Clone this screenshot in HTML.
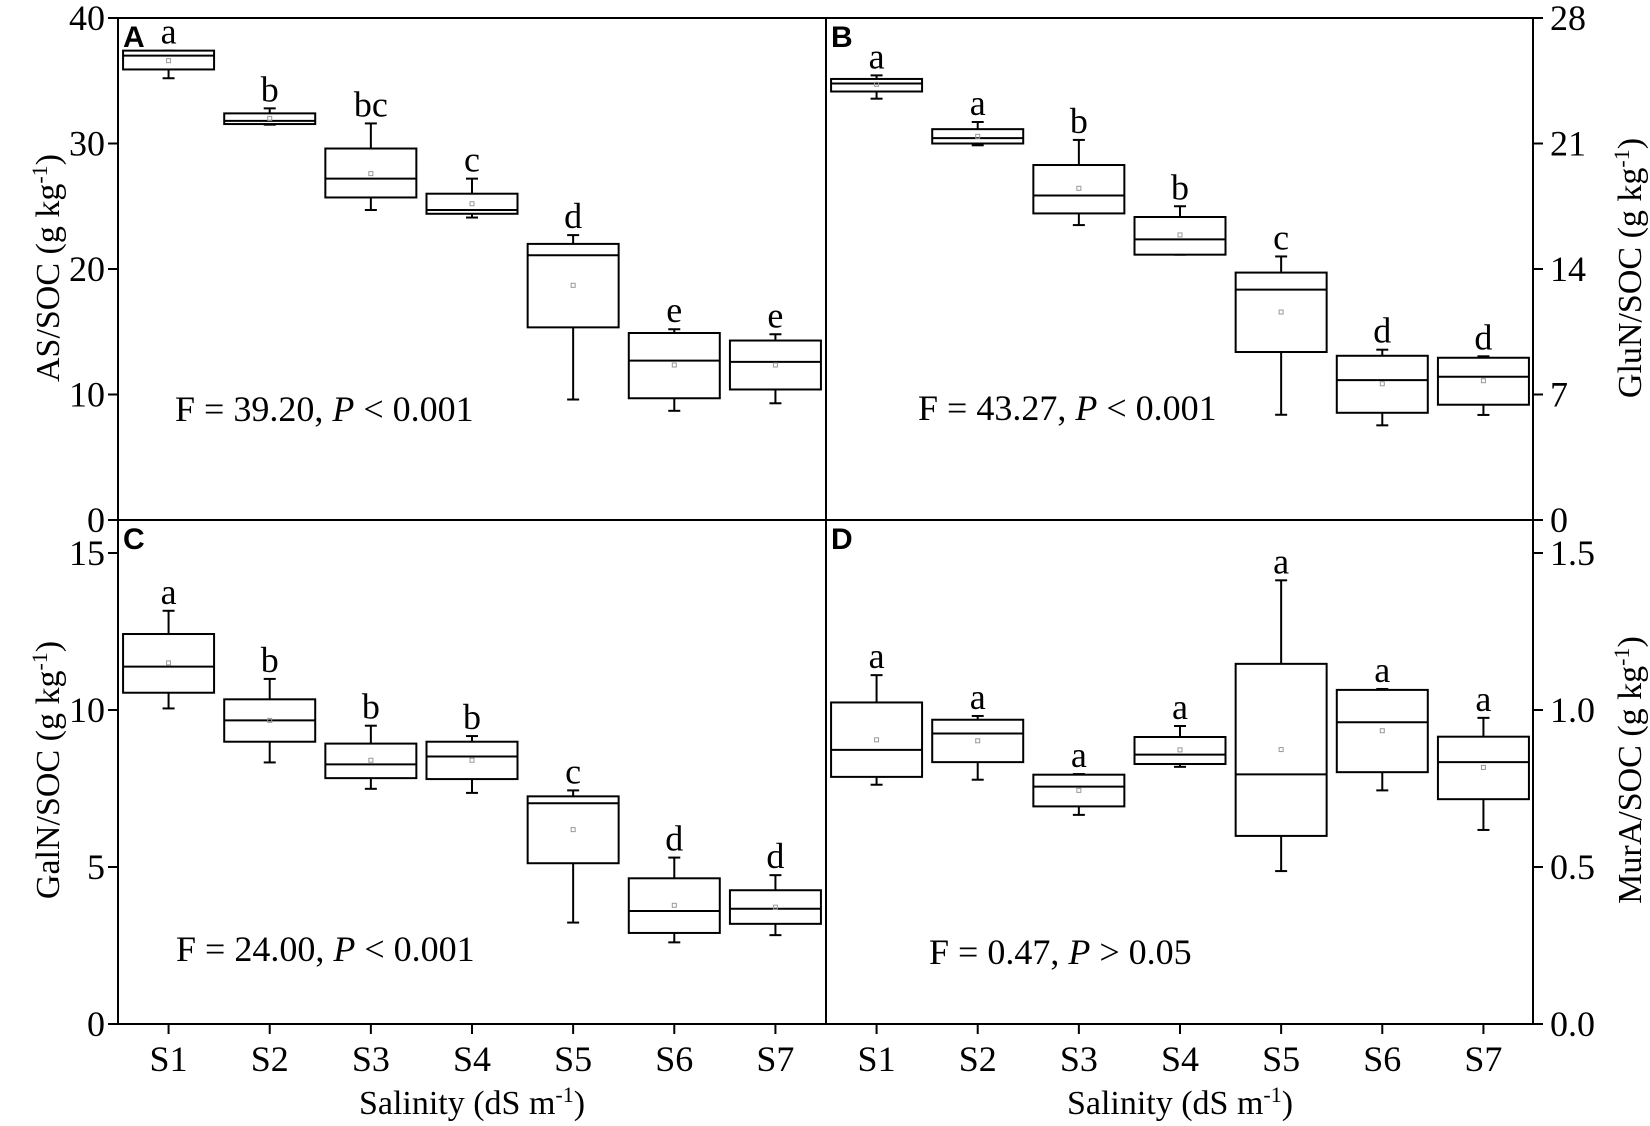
<!DOCTYPE html>
<html><head><meta charset="utf-8"><style>
html,body{margin:0;padding:0;background:#fff;}
svg{display:block;font-family:"Liberation Serif",serif;}
</style></head><body>
<svg id="chart" width="1650" height="1126" viewBox="0 0 1650 1126" xmlns="http://www.w3.org/2000/svg"></svg>
<script>
const categories = ["S1","S2","S3","S4","S5","S6","S7"];
// Panel A: AS/SOC
const aWhiskerLow = [35.2,31.5,24.7,24.1,9.6,8.7,9.3];
const aQ1 = [35.9,31.55,25.7,24.4,15.35,9.7,10.4];
const aMedian = [37.0,31.8,27.2,24.7,21.1,12.7,12.6];
const aQ3 = [37.4,32.4,29.6,26.0,22.0,14.9,14.3];
const aWhiskerHigh = [37.4,32.8,31.6,27.2,22.7,15.2,14.8];
const aMean = [36.6,32.0,27.6,25.2,18.7,12.35,12.35];
const aLetters = ["a","b","bc","c","d","e","e"];
const aTicks = [0,10,20,30,40];
// Panel B: GluN/SOC
const bWhiskerLow = [23.5,20.9,16.45,14.8,5.87,5.28,5.86];
const bQ1 = [23.9,21.0,17.1,14.8,9.37,5.98,6.43];
const bMedian = [24.35,21.3,18.1,15.65,12.85,7.8,7.99];
const bQ3 = [24.6,21.8,19.8,16.9,13.8,9.16,9.05];
const bWhiskerHigh = [24.8,22.2,21.2,17.5,14.7,9.5,9.13];
const bMean = [24.3,21.4,18.5,15.9,11.6,7.6,7.77];
const bLetters = ["a","a","b","b","c","d","d"];
const bTicks = [0,7,14,21,28];
// Panel C: GalN/SOC
const cWhiskerLow = [10.05,8.33,7.49,7.36,3.23,2.6,2.83];
const cQ1 = [10.55,8.99,7.83,7.8,5.12,2.9,3.19];
const cMedian = [11.38,9.67,8.27,8.52,7.03,3.6,3.67];
const cQ3 = [12.42,10.34,8.93,8.99,7.25,4.64,4.26];
const cWhiskerHigh = [13.16,10.99,9.5,9.17,7.44,5.3,4.74];
const cMean = [11.5,9.67,8.4,8.4,6.19,3.78,3.72];
const cLetters = ["a","b","b","b","c","d","d"];
const cTicks = [0,5,10,15];
// Panel D: MurA/SOC
const dWhiskerLow = [0.762,0.778,0.666,0.819,0.487,0.744,0.618];
const dQ1 = [0.787,0.834,0.693,0.828,0.599,0.802,0.716];
const dMedian = [0.873,0.925,0.756,0.858,0.795,0.961,0.834];
const dQ3 = [1.024,0.969,0.794,0.914,1.147,1.064,0.915];
const dWhiskerHigh = [1.111,0.981,0.796,0.949,1.413,1.067,0.975];
const dMean = [0.905,0.902,0.744,0.873,0.874,0.934,0.817];
const dLetters = ["a","a","a","a","a","a","a"];
const dTicks = ["0.0","0.5","1.0","1.5"];

const svg = document.getElementById('chart');
const NS = "http://www.w3.org/2000/svg";
function mk(tag, attrs, parent){
  const e = document.createElementNS(NS, tag);
  for (const k in attrs) e.setAttribute(k, attrs[k]);
  (parent||svg).appendChild(e);
  return e;
}
const XL = 118, XM = 826, XR = 1533, YT = 18, YM = 520, YB = 1024;
const step = (XM - XL) / 7;
const FS = 36;

function drawPanel(p){
  const g = mk('g', {});
  
  
  const y = v => p.y0 - (v - p.vmin) / (p.vmax - p.vmin) * (p.y0 - p.y1);
  const x = i => p.x0 + step * (i + 0.5);
  const bw = 91;
  for (let i = 0; i < categories.length; i++) {
    const bg = mk('g', {}, g);
    
    
    const cx = x(i);
    const st = {stroke:'#000','stroke-width':2,fill:'none'};
    mk('line', Object.assign({x1:cx,x2:cx,y1:y(p.wh[i]),y2:y(p.q3[i])}, st), bg);
    mk('line', Object.assign({x1:cx,x2:cx,y1:y(p.q1[i]),y2:y(p.wl[i])}, st), bg);
    mk('line', Object.assign({x1:cx-6,x2:cx+6,y1:y(p.wh[i]),y2:y(p.wh[i])}, st), bg);
    mk('line', Object.assign({x1:cx-6,x2:cx+6,y1:y(p.wl[i]),y2:y(p.wl[i])}, st), bg);
    mk('rect', Object.assign({x:cx-bw/2,y:y(p.q3[i]),width:bw,height:y(p.q1[i])-y(p.q3[i])}, st, {fill:'#fff'}), bg);
    mk('line', Object.assign({x1:cx-bw/2,x2:cx+bw/2,y1:y(p.med[i]),y2:y(p.med[i])}, st), bg);
    mk('rect', {x:cx-2,y:y(p.mean[i])-2,width:4,height:4,fill:'none',stroke:'#999','stroke-width':1}, bg);
    const t = mk('text', {x:cx, y:y(p.wh[i])-7, 'text-anchor':'middle', 'font-size':FS}, bg);
    t.textContent = p.letters[i];
    
    
  }
  p.ticks.forEach(tv => {
    const v = parseFloat(tv), yy = y(v);
    if (p.side === 'left') {
      mk('line', {x1:p.x0-10,x2:p.x0,y1:yy,y2:yy,stroke:'#000','stroke-width':2}, g);
      const t = mk('text', {x:p.x0-13, y:yy+12, 'text-anchor':'end','font-size':FS}, g);
      t.textContent = tv;
      
      
    } else {
      mk('line', {x1:p.x1,x2:p.x1+10,y1:yy,y2:yy,stroke:'#000','stroke-width':2}, g);
      const t = mk('text', {x:p.x1+17, y:yy+12, 'text-anchor':'start','font-size':FS}, g);
      t.textContent = tv;
      
      
    }
  });
  const pl = mk('text', {x:p.x0+5, y:p.y1+29, 'font-size':30,'font-weight':'bold','font-family':'"Liberation Sans",sans-serif'}, g);
  pl.textContent = p.id;
  
  
  const ft = mk('text', {x:p.fx, y:p.fy, 'font-size':FS}, g);
  
  
  const t1 = mk('tspan', {}, ft); t1.textContent = p.fstr + ', ';
  const t2 = mk('tspan', {'font-style':'italic'}, ft); t2.textContent = 'P';
  const t3 = mk('tspan', {}, ft); t3.textContent = p.pstr;
}

drawPanel({id:'A',x0:XL,x1:XM,y0:YM,y1:YT,vmin:0,vmax:40,side:'left',ticks:aTicks,
  wl:aWhiskerLow,q1:aQ1,med:aMedian,q3:aQ3,wh:aWhiskerHigh,mean:aMean,letters:aLetters,
  fx:175,fy:421,fstr:'F = 39.20',pstr:' < 0.001'});
drawPanel({id:'B',x0:XM,x1:XR,y0:YM,y1:YT,vmin:0,vmax:28,side:'right',ticks:bTicks,
  wl:bWhiskerLow,q1:bQ1,med:bMedian,q3:bQ3,wh:bWhiskerHigh,mean:bMean,letters:bLetters,
  fx:918,fy:420,fstr:'F = 43.27',pstr:' < 0.001'});
drawPanel({id:'C',x0:XL,x1:XM,y0:YB,y1:YB-(YB-553)*16.05/15,vmin:0,vmax:16.05,side:'left',ticks:cTicks,
  wl:cWhiskerLow,q1:cQ1,med:cMedian,q3:cQ3,wh:cWhiskerHigh,mean:cMean,letters:cLetters,
  fx:176,fy:961,fstr:'F = 24.00',pstr:' < 0.001'});
drawPanel({id:'D',x0:XM,x1:XR,y0:YB,y1:YB-(YB-553)*16.05/15,vmin:0,vmax:1.605,side:'right',ticks:dTicks,
  wl:dWhiskerLow,q1:dQ1,med:dMedian,q3:dQ3,wh:dWhiskerHigh,mean:dMean,letters:dLetters,
  fx:929,fy:964,fstr:'F = 0.47',pstr:' > 0.05'});

const frame = [[XL,YT,XR,YT],[XL,YM,XR,YM],[XL,YB,XR,YB],[XL,YT,XL,YB],[XM,YT,XM,YB],[XR,YT,XR,YB]];
frame.forEach(f => {
  const l = mk('line', {x1:f[0],y1:f[1],x2:f[2],y2:f[3],stroke:'#000','stroke-width':2});
  
  
});
[XL, XM].forEach(x0 => {
  categories.forEach((c, i) => {
    const cx = x0 + step * (i + 0.5);
    mk('line', {x1:cx,x2:cx,y1:YB,y2:YB+10,stroke:'#000','stroke-width':2});
    const t = mk('text', {x:cx, y:1071, 'text-anchor':'middle','font-size':FS});
    t.textContent = c;
    
    
  });
  const xt = mk('text', {x:(x0 + x0 + 7*step)/2, y:1114, 'text-anchor':'middle','font-size':34});
  
  
  const a = mk('tspan', {}, xt); a.textContent = 'Salinity (dS m';
  const b = mk('tspan', {dy:-12,'font-size':22}, xt); b.textContent = '-1';
  const c = mk('tspan', {dy:12}, xt); c.textContent = ')';
});
function yTitle(name, label, cx, cy){
  const t = mk('text', {x:0,y:0,'text-anchor':'middle','font-size':34,transform:`translate(${cx},${cy}) rotate(-90)`});
  
  
  const a = mk('tspan', {}, t); a.textContent = label + ' (g kg';
  const b = mk('tspan', {dy:-12,'font-size':22}, t); b.textContent = '-1';
  const c = mk('tspan', {dy:12}, t); c.textContent = ')';
}
yTitle('y-axis-title-as', 'AS/SOC', 59, 268);
yTitle('y-axis-title-galn', 'GalN/SOC', 59, 770);
yTitle('y-axis-title-glun', 'GluN/SOC', 1641, 268);
yTitle('y-axis-title-mura', 'MurA/SOC', 1641, 770);
</script>
</body></html>
